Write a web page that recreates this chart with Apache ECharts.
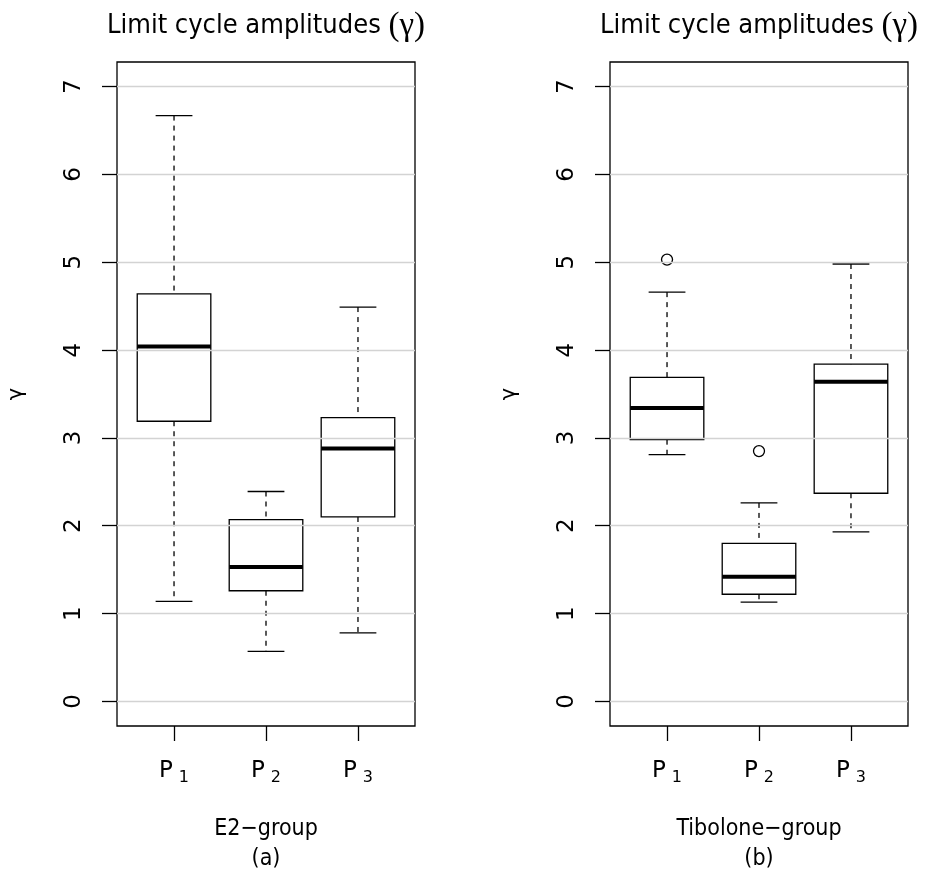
<!DOCTYPE html>
<html>
<head>
<meta charset="utf-8">
<title>Limit cycle amplitudes</title>
<script src="https://cdn.jsdelivr.net/npm/echarts@6/dist/echarts.min.js"></script>
<style>
  html, body { margin: 0; padding: 0; background: #fff; }
  #chart { width: 925px; height: 876px; }
</style>
</head>
<body>
<div id="chart"></div>
<script>
// periods on the x axis (P with subscript)
var periods = ['P1', 'P2', 'P3'];
var periodPos = [1, 2, 3];
var yTicks = [0, 1, 2, 3, 4, 5, 6, 7];

// E2-group, five-number summaries
var e2Low    = [1.14, 0.57, 0.78];
var e2Q1     = [3.19, 1.26, 2.10];
var e2Median = [4.04, 1.53, 2.88];
var e2Q3     = [4.64, 2.07, 3.23];
var e2High   = [6.67, 2.39, 4.49];

// Tibolone-group
var tibLow    = [2.81, 1.13, 1.93];
var tibQ1     = [2.98, 1.22, 2.37];
var tibMedian = [3.34, 1.42, 3.64];
var tibQ3     = [3.69, 1.80, 3.84];
var tibHigh   = [4.66, 2.26, 4.98];
var tibOutX   = [1, 2];
var tibOutY   = [5.03, 2.85];

var mainTitle = 'Limit cycle amplitudes ';
var groupNames = ['E2\u2212group\n(a)', 'Tibolone\u2212group\n(b)'];

var sansLong = '"DejaVu Sans Condensed", "Liberation Sans", sans-serif';
var sans = '"DejaVu Sans", sans-serif';
var boxWex = 0.8;

function rows(lo, q1, md, q3, hi) {
  return periodPos.map(function (p, i) { return [p, lo[i], q1[i], md[i], q3[i], hi[i]]; });
}

function renderBox(params, api) {
  var x = api.value(0);
  var hi = api.coord([x, api.value(5)]);
  var q3 = api.coord([x, api.value(4)]);
  var md = api.coord([x, api.value(3)]);
  var q1 = api.coord([x, api.value(2)]);
  var lo = api.coord([x, api.value(1)]);
  var half = api.size([boxWex, 0])[0] / 2;
  var cap = half / 2;
  var cx = md[0];
  var solid = { stroke: '#000', lineWidth: 1.3 };
  var dashed = { stroke: '#000', lineWidth: 1.3, lineDash: [5, 5] };
  return {
    type: 'group',
    children: [
      { type: 'line', shape: { x1: cx, y1: hi[1], x2: cx, y2: q3[1] }, style: dashed },
      { type: 'line', shape: { x1: cx, y1: q1[1], x2: cx, y2: lo[1] }, style: dashed },
      { type: 'line', shape: { x1: cx - cap, y1: hi[1], x2: cx + cap, y2: hi[1] }, style: solid },
      { type: 'line', shape: { x1: cx - cap, y1: lo[1], x2: cx + cap, y2: lo[1] }, style: solid },
      { type: 'rect', shape: { x: cx - half, y: q3[1], width: half * 2, height: q1[1] - q3[1] },
        style: { stroke: '#000', lineWidth: 1.3, fill: 'none' } },
      { type: 'line', shape: { x1: cx - half, y1: md[1], x2: cx + half, y2: md[1] },
        style: { stroke: '#000', lineWidth: 4 } }
    ]
  };
}

function xAxisFor(idx) {
  return {
    gridIndex: idx,
    type: 'value',
    min: 0.38,
    max: 3.62,
    name: groupNames[idx],
    nameLocation: 'middle',
    nameGap: 88,
    nameTextStyle: { fontFamily: sansLong, fontSize: 23, color: '#000', lineHeight: 30 },
    axisLine: { show: false, onZero: false },
    splitLine: { show: false },
    axisTick: { show: true, customValues: periodPos, length: 15, lineStyle: { color: '#000', width: 1.3 } },
    axisLabel: {
      customValues: periodPos,
      margin: 30,
      formatter: function (v) {
        var s = periods[periodPos.indexOf(v)];
        return '{p|' + s.charAt(0) + '}{s|' + s.slice(1) + '}';
      },
      rich: {
        p: { fontFamily: sans, fontSize: 23, color: '#000', lineHeight: 30 },
        s: { fontFamily: sans, fontSize: 16, color: '#000', lineHeight: 15, verticalAlign: 'bottom', padding: [0, 0, 0, 6] }
      }
    }
  };
}

function yAxisFor(idx) {
  return {
    gridIndex: idx,
    type: 'value',
    min: -0.28,
    max: 7.28,
    name: '\u03b3',
    nameLocation: 'middle',
    nameGap: 90,
    nameRotate: 90,
    nameTextStyle: { fontFamily: sans, fontSize: 21, color: '#000' },
    axisLine: { show: false, onZero: false },
    splitLine: { show: false },
    axisTick: { show: true, customValues: yTicks, length: 15, lineStyle: { color: '#000', width: 1.3 } },
    axisLabel: {
      customValues: yTicks,
      rotate: 90,
      margin: 31,
      fontFamily: sans,
      fontSize: 23,
      color: '#000'
    }
  };
}

function gridLines(idx) {
  return {
    type: 'line',
    xAxisIndex: idx,
    yAxisIndex: idx,
    data: [],
    z: 1,
    silent: true,
    markLine: {
      silent: true,
      symbol: 'none',
      label: { show: false },
      lineStyle: { color: '#d3d3d3', width: 1.3, type: 'solid' },
      data: yTicks.map(function (v) { return { yAxis: v }; })
    }
  };
}

var titleRich = {
  t: { fontFamily: sansLong, fontSize: 27, fill: '#000' },
  g: { fontFamily: '"Liberation Serif", serif', fontSize: 33, fill: '#000' }
};

var chart = echarts.init(document.getElementById('chart'), null, { renderer: 'canvas' });
chart.setOption({
  animation: false,
  backgroundColor: '#fff',
  grid: [
    { left: 117, top: 62, width: 298, height: 664, containLabel: false, outerBoundsMode: 'none',
      show: true, borderColor: '#000', borderWidth: 1.3, backgroundColor: 'transparent' },
    { left: 610, top: 62, width: 298, height: 664, containLabel: false, outerBoundsMode: 'none',
      show: true, borderColor: '#000', borderWidth: 1.3, backgroundColor: 'transparent' }
  ],
  xAxis: [xAxisFor(0), xAxisFor(1)],
  yAxis: [yAxisFor(0), yAxisFor(1)],
  graphic: [
    { type: 'text', x: 266, y: 26, style: { text: '{t|' + mainTitle + '}{g|(\u03b3)}', rich: titleRich, textAlign: 'center', textVerticalAlign: 'middle' } },
    { type: 'text', x: 759, y: 26, style: { text: '{t|' + mainTitle + '}{g|(\u03b3)}', rich: titleRich, textAlign: 'center', textVerticalAlign: 'middle' } }
  ],
  series: [
    gridLines(0),
    gridLines(1),
    {
      type: 'custom',
      xAxisIndex: 0,
      yAxisIndex: 0,
      z: 2,
      renderItem: renderBox,
      encode: { x: 0, y: [1, 2, 3, 4, 5] },
      data: rows(e2Low, e2Q1, e2Median, e2Q3, e2High)
    },
    {
      type: 'custom',
      xAxisIndex: 1,
      yAxisIndex: 1,
      z: 2,
      renderItem: renderBox,
      encode: { x: 0, y: [1, 2, 3, 4, 5] },
      data: rows(tibLow, tibQ1, tibMedian, tibQ3, tibHigh)
    },
    {
      type: 'scatter',
      xAxisIndex: 1,
      yAxisIndex: 1,
      z: 3,
      symbol: 'circle',
      symbolSize: 11,
      itemStyle: { color: 'none', borderColor: '#000', borderWidth: 1.3, opacity: 1 },
      data: tibOutX.map(function (x, i) { return [x, tibOutY[i]]; })
    }
  ]
});
</script>
</body>
</html>
